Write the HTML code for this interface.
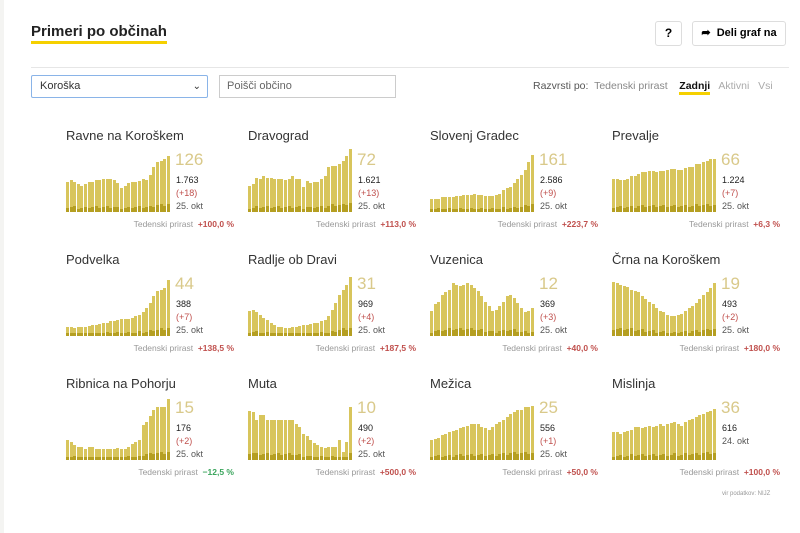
<!DOCTYPE html>
<html><head><meta charset="utf-8"><style>
body{margin:0;width:800px;height:533px;background:#fff;font-family:"Liberation Sans",sans-serif;position:relative;overflow:hidden}
.a{position:absolute;white-space:nowrap}
.t{font-size:13px;color:#333}
.big{font-size:17px;color:#d9c98a}
.s{font-size:9px;color:#222}
.r{font-size:9px;color:#c0504d}
.g{font-size:9px;color:#555}
.tp{font-size:8.5px;color:#999}
.tp b{color:#c0504d}
.bar{position:absolute;width:3px;background:#d8c55c}
.bar i{position:absolute;left:0;bottom:0;width:3px;background:#b59f22}
</style></head><body>
<div style="position:absolute;left:0;top:0;width:4px;height:533px;background:#f4f4f2"></div>
<div class="a" style="left:31px;top:23px;font-size:15px;font-weight:bold;color:#222;border-bottom:3px solid #f5d000;line-height:18px">Primeri po občinah</div>
<div class="a" style="left:655px;top:21px;width:25px;height:23px;border:1px solid #ddd;border-radius:3px;font-size:12px;font-weight:bold;text-align:center;line-height:23px">?</div>
<div class="a" style="left:692px;top:21px;width:92px;height:23px;border:1px solid #ddd;border-radius:3px;font-size:11px;font-weight:bold;line-height:23px;text-align:center">➦&nbsp; Deli graf na</div>
<div class="a" style="left:31px;top:67px;width:758px;height:1px;background:#e6e6e6"></div>
<div class="a" style="left:31px;top:75px;width:175px;height:21px;border:1px solid #8ab4e8;border-radius:2px;font-size:11px;line-height:21px;padding-left:8px;box-sizing:border-box;width:177px;height:23px;color:#333">Koroška<span style="position:absolute;right:6px;font-size:10px">&#8964;</span></div>
<div class="a" style="left:219px;top:75px;width:177px;height:23px;border:1px solid #ccc;box-sizing:border-box;font-size:11px;line-height:21px;padding-left:7px;color:#666">Poišči občino</div>
<div class="a" style="left:533px;top:80px;font-size:10.5px;color:#555">Razvrsti po:&nbsp; <span style="color:#888">Tedenski prirast</span>&nbsp;&nbsp;&nbsp; <b style="color:#111;border-bottom:3px solid #f5d000">Zadnji</b>&nbsp;&nbsp; <span style="color:#aaa">Aktivni</span>&nbsp;&nbsp; <span style="color:#aaa">Vsi</span></div>
<div id="c"></div>
<div class="a" style="left:722px;top:491px;font-size:6px;color:#999">vir podatkov: NIJZ</div>
<script>
var D=[
["Ravne na Koroškem","126","1.763","(+18)","25. okt","+100,0 %",[.46,.48,.45,.43,.4,.42,.46,.45,.48,.48,.5,.5,.5,.48,.44,.36,.4,.44,.46,.46,.47,.5,.48,.56,.68,.76,.78,.8,.85]],
["Dravograd","72","1.621","(+13)","25. okt","+113,0 %",[.4,.42,.52,.5,.55,.52,.52,.5,.5,.5,.48,.5,.55,.5,.5,.38,.47,.44,.45,.45,.5,.55,.68,.7,.7,.72,.78,.85,.95]],
["Slovenj Gradec","161","2.586","(+9)","25. okt","+223,7 %",[.2,.2,.2,.22,.22,.22,.22,.24,.24,.26,.26,.26,.28,.26,.26,.24,.24,.24,.26,.28,.34,.36,.38,.44,.5,.56,.64,.76,.86]],
["Prevalje","66","1.224","(+7)","25. okt","+6,3 %",[.5,.5,.48,.48,.5,.55,.55,.57,.6,.6,.62,.62,.6,.62,.62,.64,.65,.65,.64,.64,.66,.68,.68,.72,.72,.75,.78,.8,.8]],
["Podvelka","44","388","(+7)","25. okt","+138,5 %",[.13,.13,.12,.13,.14,.14,.15,.16,.17,.18,.19,.2,.22,.22,.24,.25,.25,.26,.28,.3,.32,.36,.42,.5,.6,.68,.7,.72,.85]],
["Radlje ob Dravi","31","969","(+4)","25. okt","+187,5 %",[.38,.4,.36,.32,.28,.24,.2,.16,.14,.14,.12,.12,.13,.14,.15,.16,.17,.18,.2,.2,.22,.24,.3,.4,.5,.62,.7,.78,.9]],
["Vuzenica","12","369","(+3)","25. okt","+40,0 %",[.38,.48,.52,.62,.66,.7,.8,.78,.75,.78,.8,.78,.72,.68,.6,.52,.45,.38,.4,.45,.52,.6,.62,.58,.5,.42,.36,.38,.42]],
["Črna na Koroškem","19","493","(+2)","25. okt","+180,0 %",[.82,.8,.78,.76,.74,.7,.68,.66,.6,.56,.52,.48,.42,.38,.36,.32,.3,.3,.32,.34,.38,.42,.46,.5,.56,.62,.66,.72,.8]],
["Ribnica na Pohorju","15","176","(+2)","25. okt","−12,5 %",[.3,.28,.22,.2,.2,.17,.2,.2,.16,.16,.16,.16,.16,.16,.18,.16,.16,.2,.24,.28,.3,.53,.58,.66,.75,.8,.8,.8,.92]],
["Muta","10","490","(+2)","25. okt","+500,0 %",[.74,.72,.6,.68,.68,.6,.6,.6,.6,.6,.6,.6,.6,.55,.5,.4,.36,.3,.25,.22,.2,.18,.2,.2,.2,.3,.12,.28,.8]],
["Mežica","25","556","(+1)","25. okt","+50,0 %",[.3,.32,.34,.38,.4,.42,.44,.46,.48,.5,.52,.54,.54,.54,.5,.48,.45,.5,.54,.58,.6,.65,.7,.72,.75,.76,.8,.8,.82]],
["Mislinja","36","616","","24. okt","+100,0 %",[.42,.42,.4,.42,.44,.46,.5,.5,.48,.5,.52,.5,.52,.55,.52,.55,.56,.58,.55,.52,.58,.6,.62,.65,.68,.7,.72,.74,.78]]
];
var h="";
D.forEach(function(d,k){
 var x=66+(k%4)*182, y=128+Math.floor(k/4)*124;
 h+='<div class="a t" style="left:'+x+'px;top:'+y+'px">'+d[0]+'</div>';
 var base=y+84;
 d[6].forEach(function(v,i){
  var bh=Math.round(v*66);
  h+='<div class="bar" style="left:'+(x+i*3.6)+'px;top:'+(base-bh)+'px;height:'+bh+'px"><i style="height:'+Math.max(3,Math.round(bh*0.12+(i%3)))+'px"></i></div>';
 });
 h+='<div class="a big" style="left:'+(x+109)+'px;top:'+(y+22)+'px">'+d[1]+'</div>';
 h+='<div class="a s" style="left:'+(x+110)+'px;top:'+(y+47)+'px">'+d[2]+'</div>';
 if(d[3])h+='<div class="a r" style="left:'+(x+110)+'px;top:'+(y+60)+'px">'+d[3]+'</div>';
 h+='<div class="a g" style="left:'+(x+110)+'px;top:'+(y+(d[3]?73:60))+'px">'+d[4]+'</div>';
 var col=d[5][0]=="−"?"#3aa55c":"#c0504d";
 h+='<div class="a tp" style="right:'+(800-x-168)+'px;top:'+(y+91)+'px">Tedenski prirast&nbsp; <b style="color:'+col+'">'+d[5]+'</b></div>';
});
document.getElementById("c").innerHTML=h;
</script>
</body></html>
